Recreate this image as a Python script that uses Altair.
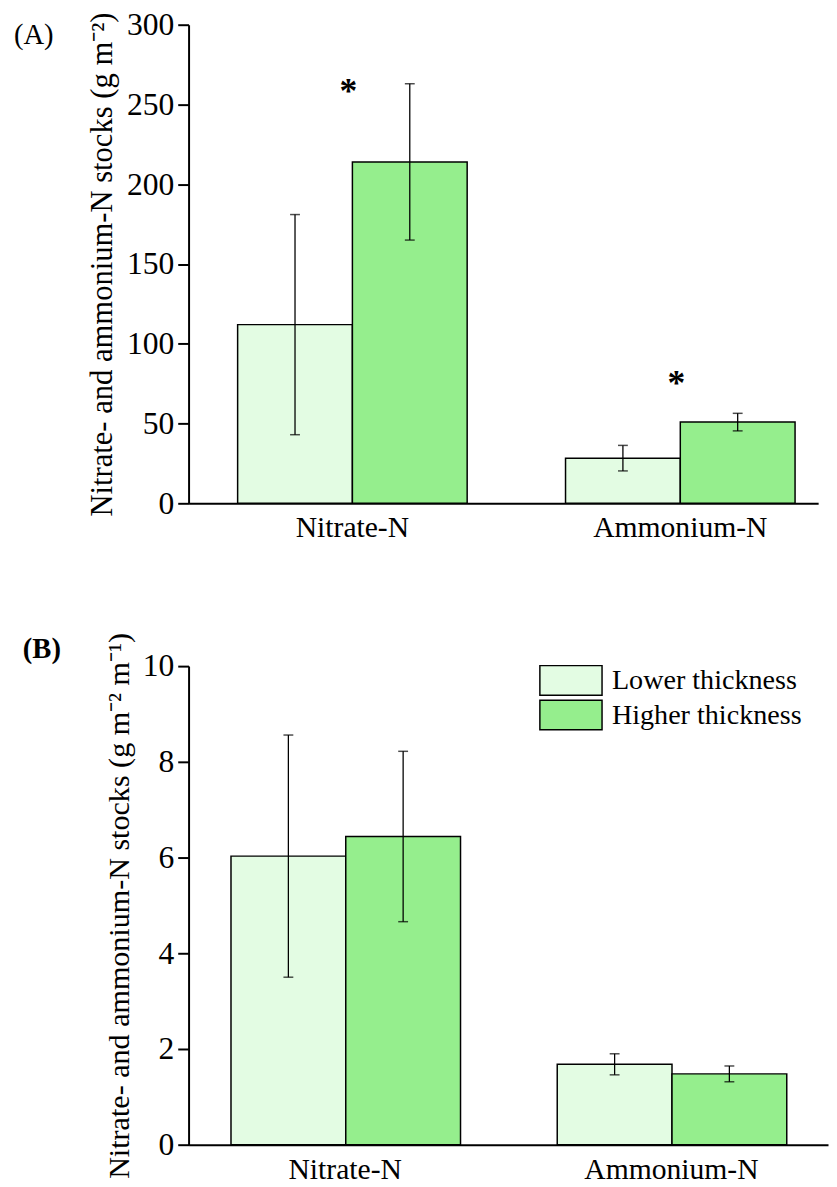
import altair as alt
import pandas as pd

categories = ["Nitrate-N", "Ammonium-N"]
groups = ["Lower thickness", "Higher thickness"]
colors = ["#E3FCE3", "#95EE8D"]

# Panel A: stocks (g m-2)
mean_a_lower = [112.0, 28.3]
mean_a_higher = [214.0, 50.9]
err_a_lower = [69.0, 8.0]
err_a_higher = [49.0, 5.5]
star_a_y = [251.0, 68.0]
star_a_text = ["*", "*"]
ticks_a = [0, 50, 100, 150, 200, 250, 300]

# Panel B: stocks (g m-2 m-1)
mean_b_lower = [6.03, 1.68]
mean_b_higher = [6.44, 1.48]
err_b_lower = [2.53, 0.22]
err_b_higher = [1.78, 0.165]
ticks_b = [0, 2, 4, 6, 8, 10]

FONT = "Liberation Serif"


def table(lower, higher, el, eh):
    rows = []
    for i, c in enumerate(categories):
        for g, m, e in ((groups[0], lower[i], el[i]), (groups[1], higher[i], eh[i])):
            rows.append({"cat": c, "grp": g, "val": m, "lo": m - e, "hi": m + e})
    return pd.DataFrame(rows)


def panel(df, ymax, yvals, ytitle, title_size, width, po, align, label,
          label_weight, label_dx, label_dy, legend, stars=None):
    xaxis = alt.Axis(title=None, ticks=False, labelAngle=0, labelPadding=10,
                     labelFontSize=30, labelFont=FONT, labelColor="black",
                     domainColor="black", domainWidth=2)
    x = alt.X("cat:N", sort=categories,
              scale=alt.Scale(paddingInner=0.3, paddingOuter=po, align=align),
              axis=xaxis)
    xo = alt.XOffset("grp:N", sort=groups,
                     scale=alt.Scale(paddingInner=0, paddingOuter=0))
    yscale = alt.Scale(domain=[0, ymax], nice=False, zero=True)
    yaxis = alt.Axis(values=yvals, title=ytitle, grid=False, tickSize=11,
                     tickWidth=2, tickColor="black", domainColor="black",
                     domainWidth=2, labelFontSize=32, labelFont=FONT,
                     labelColor="black", labelPadding=4, titleFont=FONT,
                     titleFontSize=title_size, titleFontWeight="normal",
                     titleColor="black", titlePadding=8)
    base = alt.Chart(df)
    bars = base.mark_bar(stroke="black", strokeWidth=1.5).encode(
        x=x, xOffset=xo,
        y=alt.Y("val:Q", scale=yscale, axis=yaxis),
        color=alt.Color("grp:N", sort=groups,
                        scale=alt.Scale(domain=groups, range=colors),
                        legend=legend, title=None),
    )
    rules = base.mark_rule(color="black", strokeWidth=1.3).encode(
        x=x, xOffset=xo,
        y=alt.Y("lo:Q", scale=yscale, axis=yaxis), y2="hi:Q")
    cap_lo = base.mark_tick(color="black", size=10, thickness=1.5).encode(
        x=x, xOffset=xo, y=alt.Y("lo:Q", scale=yscale, axis=yaxis))
    cap_hi = base.mark_tick(color="black", size=10, thickness=1.5).encode(
        x=x, xOffset=xo, y=alt.Y("hi:Q", scale=yscale, axis=yaxis))
    layers = [bars, rules, cap_lo, cap_hi]
    if stars is not None:
        sdf = pd.DataFrame({"cat": categories, "sy": stars[0], "txt": stars[1]})
        st = alt.Chart(sdf).mark_text(fontSize=36, fontWeight="bold", font=FONT,
                                      color="black", dx=-4,
                                      baseline="alphabetic").encode(
            x=x, y=alt.Y("sy:Q", scale=yscale, axis=yaxis), text="txt:N")
        layers.append(st)
    # panel letter
    ldf = pd.DataFrame({"lab": [label]})
    lab = alt.Chart(ldf).mark_text(fontSize=29, font=FONT, fontWeight=label_weight,
                                   color="black", align="left",
                                   baseline="alphabetic").encode(
        x=alt.value(label_dx), y=alt.value(label_dy), text="lab:N")
    layers.append(lab)
    return alt.layer(*layers).properties(width=width, height=485)


df_a = table(mean_a_lower, mean_a_higher, err_a_lower, err_a_higher)
df_b = table(mean_b_lower, mean_b_higher, err_b_lower, err_b_higher)

legend_b = alt.Legend(orient="none", legendX=355, legendY=-3,
                      symbolType="M-1,-0.476H1V0.476H-1Z", symbolSize=3969,
                      symbolStrokeColor="black", symbolStrokeWidth=1.5,
                      symbolOpacity=1, labelFontSize=28.5, labelFont=FONT,
                      labelColor="black", labelOffset=9, labelLimit=400,
                      clipHeight=35, rowPadding=0, padding=0)

top = panel(df_a, 300, ticks_a, "Nitrate- and ammonium-N stocks (g m⁻²)", 31,
            638, 0.11, 0.68, "(A)", "normal", -177, 20, None,
            stars=(star_a_y, star_a_text))
bottom = panel(df_b, 10, ticks_b, "Nitrate- and ammonium-N stocks (g m⁻² m⁻¹)",
               30.5, 648, 0.13, 0.5, "(B)", "bold", -168, -8, legend_b)

chart = alt.vconcat(top, bottom, spacing=89).resolve_legend(
    color="independent"
).properties(
    padding={"left": 5, "top": -8, "right": 0, "bottom": 0}
).configure(font=FONT).configure_view(stroke="transparent")

chart.save("out.html", embed_options={"renderer": "svg", "actions": False})
